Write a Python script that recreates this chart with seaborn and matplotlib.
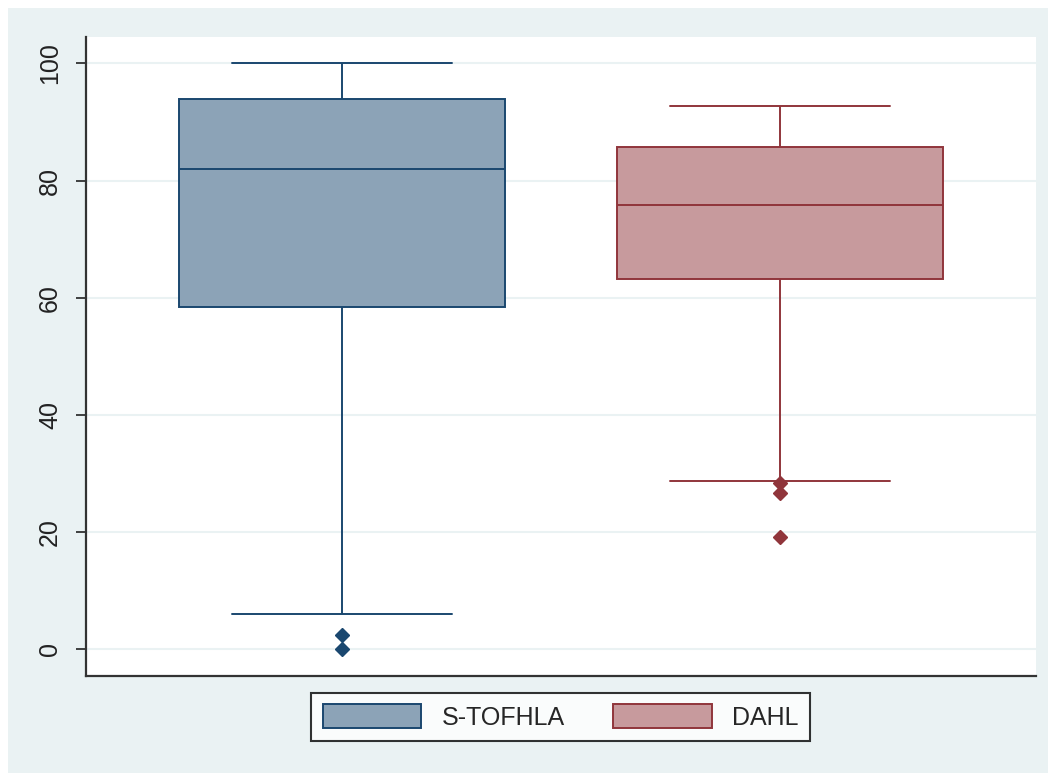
import matplotlib
matplotlib.use("Agg")
import matplotlib.pyplot as plt
from matplotlib.patches import Patch, Rectangle
import seaborn as sns
import pandas as pd

# ---- data ----
tests = ["S-TOFHLA", "DAHL"]
stofhla_scores = [0, 2.4, 6, 58.4, 58.4, 58.4, 82, 93.9, 93.9, 93.9, 100, 100, 100]
dahl_scores = [19.1, 26.6, 28.3, 28.7, 63.2, 63.2, 63.2, 63.2, 75.9,
               85.7, 85.7, 85.7, 85.7, 92.8, 92.8, 92.8, 92.8]
y_ticks = [0, 20, 40, 60, 80, 100]

fill_colors = {"S-TOFHLA": "#8ca3b7", "DAHL": "#c79a9d"}
edge_colors = {"S-TOFHLA": "#1a476f", "DAHL": "#90353b"}

df = pd.DataFrame({
    "test": ["S-TOFHLA"] * len(stofhla_scores) + ["DAHL"] * len(dahl_scores),
    "score": stofhla_scores + dahl_scores,
})

sns.set_theme(style="white")
plt.rcParams["font.family"] = ["Liberation Sans", "DejaVu Sans"]

fig = plt.figure(figsize=(10.48, 7.73), dpi=100, facecolor="white")
fig.add_artist(Rectangle((8 / 1048, 0), 1 - 8 / 1048, (773 - 8) / 773,
                         transform=fig.transFigure, facecolor="#eaf2f3",
                         edgecolor="none", zorder=-10))
ax = fig.add_axes([86 / 1048, (773 - 676) / 773, (1036 - 86) / 1048, (676 - 37) / 773])
ax.set_facecolor("white")

for t in tests:
    sub = df[df["test"] == t]
    ec = edge_colors[t]
    sns.boxplot(data=sub, x="test", y="score", order=tests, ax=ax,
                color=fill_colors[t], saturation=1, linecolor=ec,
                linewidth=1.4, width=0.744, whis=1.545, capwidths=0.502,
                flierprops=dict(marker="D", markerfacecolor=ec,
                                markeredgecolor=ec, markersize=7.5))

ax.set_xlim(-0.584, 1.584)
ax.set_ylim(-4.56, 104.5)
ax.set_yticks(y_ticks)
ax.set_yticklabels([str(v) for v in y_ticks])
ax.set_xticks([])
ax.set_xlabel("")
ax.set_ylabel("")
ax.yaxis.grid(True, color="#eaf2f3", linewidth=1.5)
ax.set_axisbelow(True)
ax.tick_params(axis="y", left=True, length=7.2, width=1.2, pad=10,
               labelsize=18, labelrotation=90, colors="#222222")
for lbl in ax.get_yticklabels():
    lbl.set_verticalalignment("center")
for s in ["top", "right"]:
    ax.spines[s].set_visible(False)
for s in ["left", "bottom"]:
    ax.spines[s].set_color("#333333")
    ax.spines[s].set_linewidth(1.6)

handles = [Patch(facecolor=fill_colors[t], edgecolor=edge_colors[t], linewidth=1.4, label=t)
           for t in tests]
leg = fig.legend(handles=handles, loc="center", bbox_to_anchor=(0.535, 0.0724),
                 ncol=2, fontsize=18, frameon=True, fancybox=False,
                 handlelength=3.95, handleheight=1.1, handletextpad=0.8,
                 columnspacing=1.95, borderpad=0.45, borderaxespad=0)
leg.get_frame().set_edgecolor("black")
leg.get_frame().set_linewidth(1.5)
leg.get_frame().set_facecolor("white")

fig.savefig("out.png", dpi=100, facecolor=fig.get_facecolor())
